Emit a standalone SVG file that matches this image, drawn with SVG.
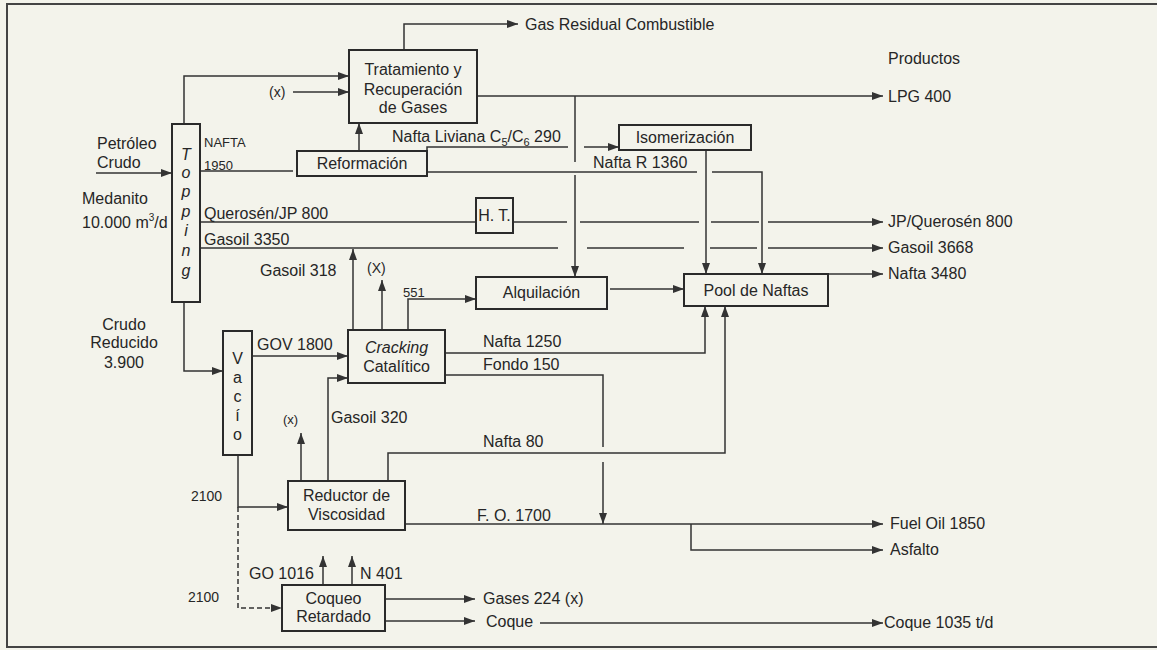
<svg xmlns="http://www.w3.org/2000/svg" width="1157" height="650" viewBox="0 0 1157 650">
<style>
text{font-family:"Liberation Sans",Arial,sans-serif;font-size:16px;fill:#262626}
.s{font-size:13px}
.m{font-size:14px}
.c{text-anchor:middle}
.box{fill:none;stroke:#2a2a2a;stroke-width:2}
.ln{fill:none;stroke:#333;stroke-width:1.5}
.ar{marker-end:url(#ah)}
.d{stroke-dasharray:5 3}
.frame{fill:none;stroke:#444;stroke-width:2}
</style>
<defs>
<marker id="ah" markerUnits="userSpaceOnUse" markerWidth="11" markerHeight="8" refX="11" refY="4" orient="auto">
<path d="M0,0 L11,4 L0,8 z" fill="#333"/>
</marker>
</defs>
<rect width="1157" height="650" fill="#f3f3eb"/>
<path class="frame" d="M1157,4 L7,4 L7,647 L1157,647"/>

<g id="connectors">
<line class="ln ar" x1="96" y1="173" x2="172" y2="173"/>
<polyline class="ln ar" points="184,124 184,76 349,76"/>
<line class="ln ar" x1="293" y1="92" x2="349" y2="92"/>
<polyline class="ln ar" points="404,50 404,24 518,24"/>
<line class="ln ar" x1="477" y1="96" x2="883" y2="96"/>
<line class="ln" x1="575" y1="96" x2="575" y2="162"/>
<line class="ln ar" x1="575" y1="175" x2="575" y2="277"/>
<line class="ln" x1="200" y1="171" x2="293" y2="171"/>
<line class="ln ar" x1="359" y1="151" x2="359" y2="123"/>
<polyline class="ln" points="427,151 427,147 568,147"/>
<line class="ln ar" x1="584" y1="147" x2="619" y2="147"/>
<line class="ln" x1="427" y1="172" x2="697" y2="172"/>
<polyline class="ln ar" points="712,172 762,172 762,274"/>
<line class="ln ar" x1="706" y1="150" x2="706" y2="274"/>
<line class="ln" x1="200" y1="222" x2="476" y2="222"/>
<line class="ln" x1="513" y1="222" x2="567" y2="222"/>
<line class="ln" x1="580" y1="222" x2="699" y2="222"/>
<line class="ln" x1="711" y1="222" x2="759" y2="222"/>
<line class="ln ar" x1="768" y1="222" x2="883" y2="222"/>
<line class="ln" x1="200" y1="248" x2="558" y2="248"/>
<line class="ln" x1="587" y1="248" x2="684" y2="248"/>
<line class="ln" x1="710" y1="248" x2="757" y2="248"/>
<line class="ln ar" x1="768" y1="248" x2="883" y2="248"/>
<line class="ln ar" x1="828" y1="274" x2="883" y2="274"/>
<line class="ln ar" x1="610" y1="289" x2="684" y2="289"/>
<polyline class="ln ar" points="184,302 184,371 223,371"/>
<line class="ln ar" x1="252" y1="356" x2="348" y2="356"/>
<line class="ln ar" x1="353" y1="330" x2="353" y2="249"/>
<line class="ln ar" x1="382" y1="330" x2="382" y2="280"/>
<polyline class="ln ar" points="408,330 408,299 476,299"/>
<polyline class="ln ar" points="445,353 705,353 705,306"/>
<polyline class="ln" points="445,375 603,375 603,447"/>
<line class="ln ar" x1="603" y1="462" x2="603" y2="524"/>
<polyline class="ln ar" points="328,481 328,378 348,378"/>
<line class="ln ar" x1="301" y1="481" x2="301" y2="433"/>
<polyline class="ln ar" points="388,481 388,453 725,453 725,306"/>
<polyline class="ln ar" points="238,455 238,507 288,507"/>
<polyline class="ln ar d" points="238,507 238,608 282,608"/>
<line class="ln ar" x1="405" y1="524" x2="883" y2="524"/>
<polyline class="ln ar" points="691,524 691,550 883,550"/>
<line class="ln ar" x1="323" y1="585" x2="323" y2="556"/>
<line class="ln ar" x1="352" y1="585" x2="352" y2="556"/>
<line class="ln ar" x1="385" y1="599" x2="475" y2="599"/>
<line class="ln ar" x1="385" y1="621" x2="475" y2="621"/>
<line class="ln ar" x1="540" y1="623" x2="883" y2="623"/>
</g>

<g id="topping">
<rect class="box" x="172" y="124" width="28" height="178"/>
<text class="c" x="186" y="160" font-style="italic">T</text>
<text class="c" x="186" y="178" font-style="italic">o</text>
<text class="c" x="186" y="197" font-style="italic">p</text>
<text class="c" x="186" y="217" font-style="italic">p</text>
<text class="c" x="186" y="236" font-style="italic">i</text>
<text class="c" x="186" y="256" font-style="italic">n</text>
<text class="c" x="186" y="276" font-style="italic">g</text>
</g>
<g id="tratamiento">
<rect class="box" x="349" y="50" width="128" height="73"/>
<text class="c" x="413" y="75">Tratamiento y</text>
<text class="c" x="413" y="95">Recuperación</text>
<text class="c" x="413" y="113">de Gases</text>
</g>
<g id="reformacion">
<rect class="box" x="297" y="151" width="130" height="25"/>
<text class="c" x="362" y="169">Reformación</text>
</g>
<g id="isomerizacion">
<rect class="box" x="619" y="125" width="132" height="25"/>
<text class="c" x="685" y="143">Isomerización</text>
</g>
<g id="ht">
<rect class="box" x="476" y="198" width="37" height="35"/>
<text class="c" x="494.5" y="221">H. T.</text>
</g>
<g id="alquilacion">
<rect class="box" x="476" y="277" width="131" height="32"/>
<text class="c" x="541.5" y="298">Alquilación</text>
</g>
<g id="pool">
<rect class="box" x="684" y="274" width="144" height="32"/>
<text class="c" x="756" y="296">Pool de Naftas</text>
</g>
<g id="vacio">
<rect class="box" x="223" y="331" width="29" height="124"/>
<text class="c" x="237.5" y="364">V</text>
<text class="c" x="237.5" y="383">a</text>
<text class="c" x="237.5" y="402">c</text>
<text class="c" x="237.5" y="421">í</text>
<text class="c" x="237.5" y="440">o</text>
</g>
<g id="cracking">
<rect class="box" x="348" y="330" width="97" height="53"/>
<text class="c" x="396.5" y="353" font-style="italic">Cracking</text>
<text class="c" x="396.5" y="372">Catalítico</text>
</g>
<g id="reductor">
<rect class="box" x="288" y="481" width="117" height="49"/>
<text class="c" x="346.5" y="501">Reductor de</text>
<text class="c" x="346.5" y="520">Viscosidad</text>
</g>
<g id="coqueo">
<rect class="box" x="282" y="585" width="103" height="46"/>
<text class="c" x="333.5" y="604">Coqueo</text>
<text class="c" x="333.5" y="622">Retardado</text>
</g>

<g id="labels">
<text x="525" y="30">Gas Residual Combustible</text>
<text x="888" y="64">Productos</text>
<text x="888" y="102">LPG 400</text>
<text class="m" x="269" y="97">(x)</text>
<text x="97" y="149">Petróleo</text>
<text x="97" y="168">Crudo</text>
<text x="82" y="204">Medanito</text>
<text x="82" y="228">10.000 m<tspan font-size="10" dy="-7">3</tspan><tspan dy="7">/d</tspan></text>
<text class="s" x="204" y="147">NAFTA</text>
<text class="s" x="204" y="170">1950</text>
<text x="392" y="142">Nafta Liviana C<tspan font-size="11" dy="4">5</tspan><tspan dy="-4">/C</tspan><tspan font-size="11" dy="4">6</tspan><tspan dy="-4"> 290</tspan></text>
<text x="593" y="168">Nafta R 1360</text>
<text x="204" y="219">Querosén/JP 800</text>
<text x="204" y="245">Gasoil 3350</text>
<text x="888" y="227">JP/Querosén 800</text>
<text x="888" y="253">Gasoil 3668</text>
<text x="888" y="279">Nafta 3480</text>
<text x="260" y="276">Gasoil 318</text>
<text class="m" x="367" y="273">(X)</text>
<text class="s" x="403" y="297">551</text>
<text class="c" x="124" y="330">Crudo</text>
<text class="c" x="124" y="348">Reducido</text>
<text class="c" x="124" y="368">3.900</text>
<text x="257" y="350">GOV 1800</text>
<text x="483" y="347">Nafta 1250</text>
<text x="483" y="370">Fondo 150</text>
<text class="s" x="283" y="424">(x)</text>
<text x="331" y="423">Gasoil 320</text>
<text x="483" y="447">Nafta 80</text>
<text class="m" x="191" y="501">2100</text>
<text class="m" x="188" y="602">2100</text>
<text x="477" y="521">F. O. 1700</text>
<text x="890" y="529">Fuel Oil 1850</text>
<text x="890" y="555">Asfalto</text>
<text x="249" y="579">GO 1016</text>
<text x="360" y="579">N 401</text>
<text x="483" y="604">Gases 224 (x)</text>
<text x="486" y="627">Coque</text>
<text x="884" y="628">Coque 1035 t/d</text>
</g>
</svg>
